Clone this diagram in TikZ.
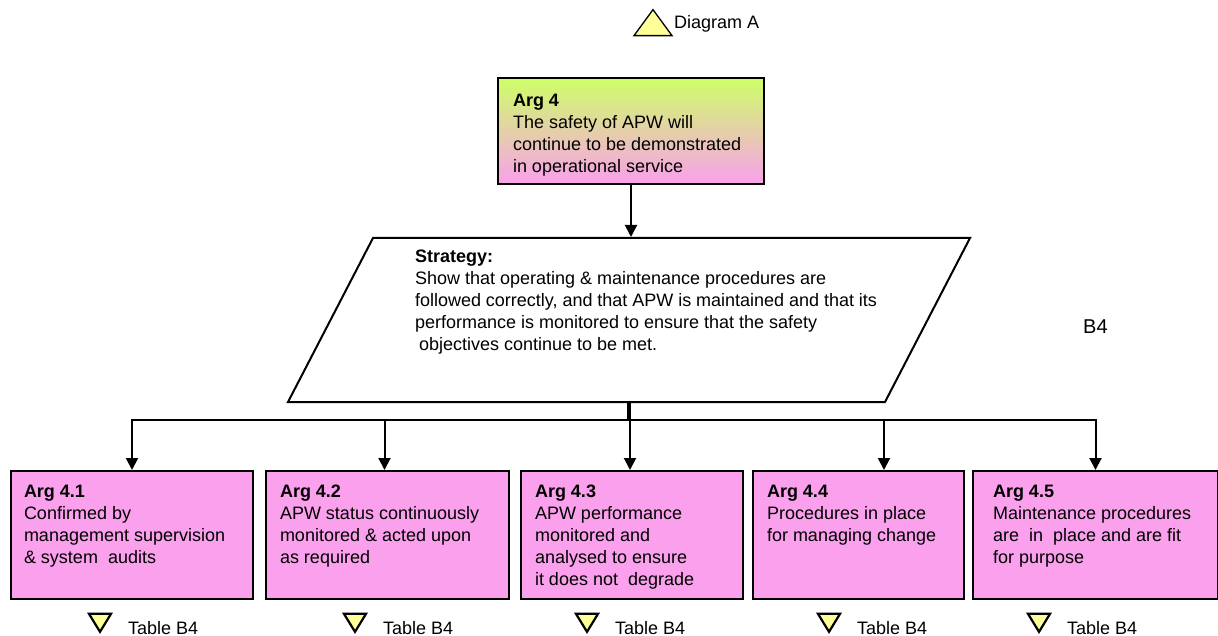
\documentclass[tikz,border=0pt]{standalone}
\usepackage{fontspec}
\setmainfont{Liberation Sans}
\usepackage{tikz}
\usetikzlibrary{arrows.meta, positioning, shapes.geometric}

\definecolor{argpink}{RGB}{250,160,236}
\definecolor{arglime}{RGB}{206,255,102}
\definecolor{tabyellow}{RGB}{255,255,153}

% fixed height box text, set from the top
\newcommand{\boxtext}[3]{\parbox[c][#1][t]{#2}{\raggedright #3}}

\begin{document}
\begin{tikzpicture}[
  x=1pt, y=-1pt,
  font=\fontsize{18pt}{22pt}\selectfont,
  >={Triangle[length=12pt,width=12pt]},
  goal/.style={
    draw,
    line width=2pt,
    anchor=north west,
    inner xsep=0pt
  },
  topgoal/.style={goal,top color=arglime,bottom color=argpink,
    minimum width=266pt,minimum height=106pt,inner ysep=16pt},
  subgoal/.style={goal,fill=argpink,minimum height=128pt,inner ysep=14pt},
  strategy/.style={
    draw,
    line width=2pt,
    fill=white,
    trapezium,
    trapezium left angle=62.6,
    trapezium right angle=117.4,
    trapezium stretches body,
    minimum width=682pt,
    minimum height=164pt,
    inner xsep=0pt,
    inner ysep=12pt
  },
  uptab/.style={draw,line width=1.3pt,fill=tabyellow,isosceles triangle,
    isosceles triangle stretches,shape border rotate=90,
    minimum width=38pt,minimum height=26pt,inner sep=0pt},
  downtab/.style={draw,line width=2.2pt,fill=tabyellow,isosceles triangle,
    isosceles triangle stretches,shape border rotate=270,
    minimum width=22pt,minimum height=18pt,inner sep=0pt},
  tablabel/.style={inner sep=0pt,anchor=base west},
  arr/.style={->,line width=2pt},
  trunk/.style={line width=4pt}
]

\useasboundingbox (0,0) rectangle (1218,636);

\node[uptab] (diag) at (653,26) {};
\node[tablabel] (diaglbl) at (674,29) {Diagram A};

\node[topgoal] (arg4) at (497,77)
{\boxtext{74pt}{236pt}{\textbf{Arg 4}\\The safety of APW will\\continue to be demonstrated\\in operational service}};

\node[strategy] (strat) at (629,320)
{\boxtext{140pt}{496pt}{\leftskip=34pt \textbf{Strategy:}\\
Show that operating \& maintenance procedures are\\
followed correctly, and that APW is maintained and that its\\
performance is monitored to ensure that the safety\\
\hspace*{4pt}objectives continue to be met.}};

\node[tablabel,font=\fontsize{20pt}{24pt}\selectfont] (b4) at (1083,334) {B4};

\node[subgoal,minimum width=242pt] (a1) at (10,470)
{\boxtext{100pt}{216pt}{\textbf{Arg 4.1}\\Confirmed by\\management supervision\\\& system\ \ audits}};
\node[subgoal,minimum width=243pt] (a2) at (265,470)
{\boxtext{100pt}{215pt}{\textbf{Arg 4.2}\\APW status continuously\\monitored \& acted upon\\as required}};
\node[subgoal,minimum width=222pt] (a3) at (520,470)
{\boxtext{100pt}{194pt}{\textbf{Arg 4.3}\\APW performance\\monitored and\\analysed to ensure\\it does not\ \ degrade}};
\node[subgoal,minimum width=211pt] (a4) at (752,470)
{\boxtext{100pt}{183pt}{\textbf{Arg 4.4}\\Procedures in place\\for managing change}};
\node[subgoal,minimum width=245pt] (a5) at (972,470)
{\boxtext{100pt}{205pt}{\textbf{Arg 4.5}\\Maintenance procedures\\are\ \ in\ \ place and are fit\\for purpose}};

\node[downtab] (tab1) at (100,620) {};
\node[downtab] (tab2) at (355,620) {};
\node[downtab] (tab3) at (587,620) {};
\node[downtab] (tab4) at (829,620) {};
\node[downtab] (tab5) at (1039,620) {};
\node[tablabel] (tablbl1) at (128,634) {Table B4};
\node[tablabel] (tablbl2) at (383,634) {Table B4};
\node[tablabel] (tablbl3) at (615,634) {Table B4};
\node[tablabel] (tablbl4) at (857,634) {Table B4};
\node[tablabel] (tablbl5) at (1067,634) {Table B4};

\coordinate (split) at (630,420);

\draw[arr] (arg4.south) -- (arg4.south |- strat.north);
\draw[trunk] (strat.south) -- (strat.south |- split);
\draw[arr] (split) -| (a1.north);
\draw[arr] (split) -| ([xshift=-3pt]a2.north);
\draw[arr] (split) -- (split |- a3.north);
\draw[arr] (split) -| ([xshift=25.5pt]a4.north);
\draw[arr] (split) -| (a5.north);

\end{tikzpicture}
\end{document}
